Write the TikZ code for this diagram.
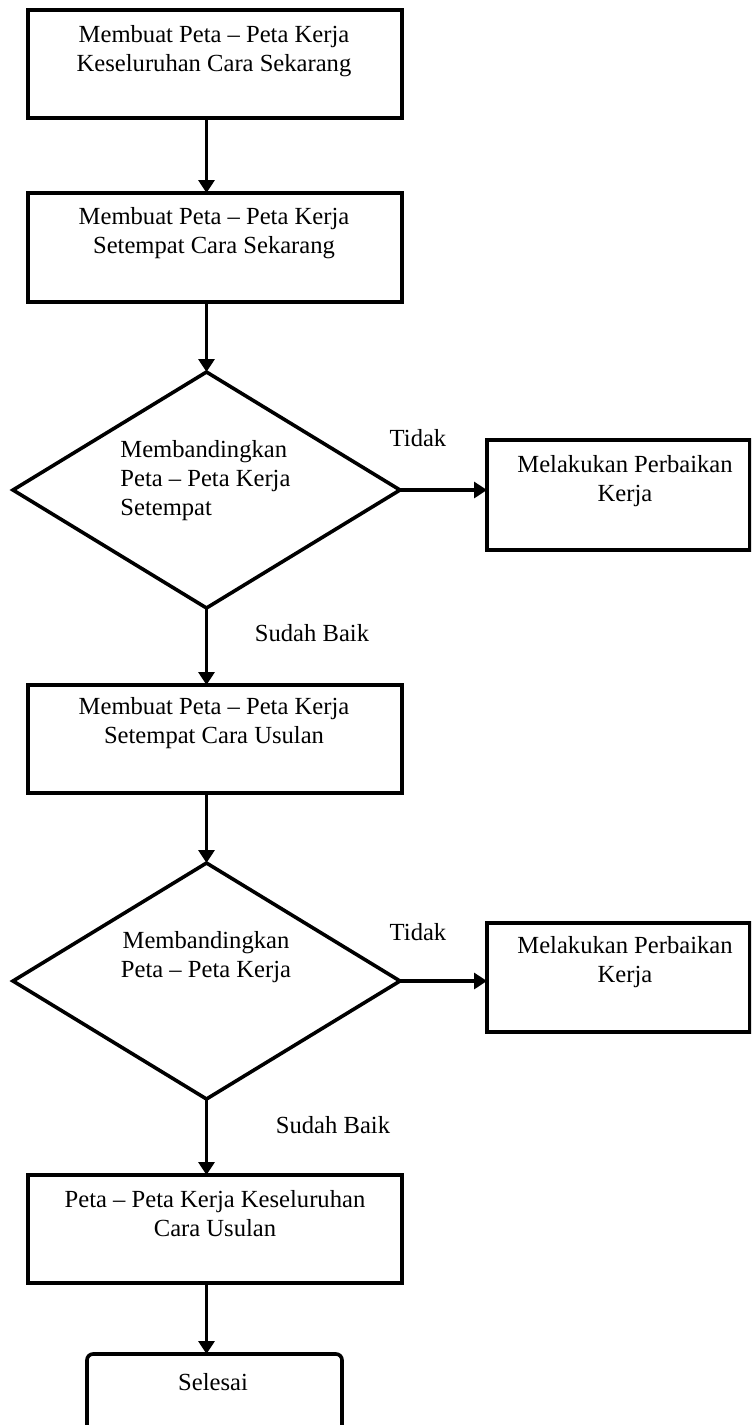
\documentclass[tikz,border=0pt]{standalone}
\usepackage{fontspec}
\setmainfont{Liberation Serif}
\usetikzlibrary{shapes.geometric,arrows.meta}
\begin{document}
\begin{tikzpicture}[x=0.5pt,y=-0.5pt,
  box/.style={draw,line width=1.8pt,inner sep=0pt,outer sep=0pt},
  dia/.style={draw,diamond,line width=1.8pt,inner sep=0pt,outer sep=0pt},
  txt/.style={inner sep=0pt,align=center,font=\fontsize{12.3}{14.5}\selectfont},
  arr/.style={line width=1.6pt,-{Triangle[length=6.5pt,width=8pt]}}]
\clip (0,0) rectangle (751,1425);
\fill[white] (0,0) rectangle (751,1425);
% boxes
\node[box,minimum width=187pt,minimum height=54pt] (b1) at (215,64) {};
\node[txt] (t1) at (214,51) {Membuat Peta -- Peta Kerja\\Keseluruhan Cara Sekarang};
\node[box,minimum width=187pt,minimum height=54.5pt] (b2) at (215,247.5) {};
\node[txt] (t2) at (214,233) {Membuat Peta -- Peta Kerja\\Setempat Cara Sekarang};
\node[dia,minimum width=193.5pt,minimum height=118pt] (d1) at (206.5,490) {};
\node[txt,align=left,anchor=west] (t3) at (120,481) {Membandingkan\\Peta -- Peta Kerja\\Setempat};
\node[box,minimum width=131.5pt,minimum height=55pt] (b3) at (618.5,495) {};
\node[txt] (t4) at (625,481) {Melakukan Perbaikan\\Kerja};
\node[box,minimum width=187pt,minimum height=54pt] (b4) at (215,739) {};
\node[txt] (t5) at (214,723.5) {Membuat Peta -- Peta Kerja\\Setempat Cara Usulan};
\node[dia,minimum width=193.5pt,minimum height=118pt] (d2) at (206.5,981) {};
\node[txt] (t6) at (206,957) {Membandingkan\\Peta -- Peta Kerja};
\node[box,minimum width=131.5pt,minimum height=54.5pt] (b5) at (618.5,977.5) {};
\node[txt] (t7) at (625,962) {Melakukan Perbaikan\\Kerja};
\node[box,minimum width=187pt,minimum height=54pt] (b6) at (215,1229) {};
\node[txt] (t8) at (215,1214) {Peta -- Peta Kerja Keseluruhan\\Cara Usulan};
\node[box,rounded corners=3pt,minimum width=127.5pt,minimum height=50pt] (b7) at (214.5,1404) {};
\node[txt] (t9) at (213,1382) {Selesai};
% labels
\node[txt] (l1) at (418,438) {Tidak};
\node[txt] (l2) at (312,633) {Sudah Baik};
\node[txt] (l3) at (418,932) {Tidak};
\node[txt] (l4) at (333,1125) {Sudah Baik};
% connectors
\draw[arr] (b1.south -| d1.center) -- (b2.north -| d1.center);
\draw[arr] (b2.south -| d1.center) -- (d1.north);
\draw[arr] (d1.east) -- (b3.west |- d1.east);
\draw[arr] (d1.south) -- (b4.north -| d1.center);
\draw[arr] (b4.south -| d1.center) -- (d2.north);
\draw[arr] (d2.east) -- (b5.west |- d2.east);
\draw[arr] (d2.south) -- (b6.north -| d2.center);
\draw[arr] (b6.south -| d2.center) -- (b7.north -| d2.center);
\end{tikzpicture}
\end{document}
